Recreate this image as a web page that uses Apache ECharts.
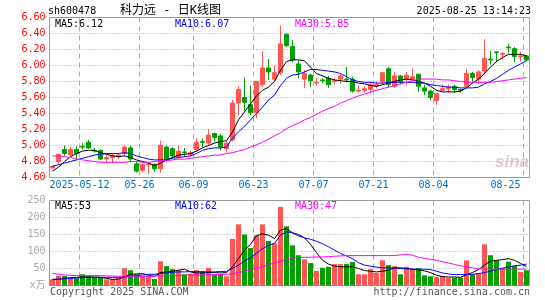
<!DOCTYPE html>
<html><head><meta charset="utf-8">
<script src="https://cdn.jsdelivr.net/npm/echarts@6/dist/echarts.min.js"></script>
<style>html,body{margin:0;padding:0;background:#fff}#c{width:545px;height:300px}</style>
</head><body><div id="c"></div>
<script>
const dates = ['2025-04-30','2025-05-06','2025-05-07','2025-05-08','2025-05-09','2025-05-12','2025-05-13','2025-05-14','2025-05-15','2025-05-16',
'2025-05-19','2025-05-20','2025-05-21','2025-05-22','2025-05-23','2025-05-26','2025-05-27','2025-05-28','2025-05-29','2025-05-30',
'2025-06-03','2025-06-04','2025-06-05','2025-06-06','2025-06-09','2025-06-10','2025-06-11','2025-06-12','2025-06-13','2025-06-16',
'2025-06-17','2025-06-18','2025-06-19','2025-06-20','2025-06-23','2025-06-24','2025-06-25','2025-06-26','2025-06-27','2025-06-30',
'2025-07-01','2025-07-02','2025-07-03','2025-07-04','2025-07-07','2025-07-08','2025-07-09','2025-07-10','2025-07-11','2025-07-14',
'2025-07-15','2025-07-16','2025-07-17','2025-07-18','2025-07-21','2025-07-22','2025-07-23','2025-07-24','2025-07-25','2025-07-28',
'2025-07-29','2025-07-30','2025-07-31','2025-08-01','2025-08-04','2025-08-05','2025-08-06','2025-08-07','2025-08-08','2025-08-11',
'2025-08-12','2025-08-13','2025-08-14','2025-08-15','2025-08-18','2025-08-19','2025-08-20','2025-08-21','2025-08-22','2025-08-25'];

const openP = [4.72,4.80,4.95,4.88,4.95,4.99,5.04,4.94,4.94,4.83,
4.85,4.86,4.90,4.97,4.77,4.69,4.76,4.76,4.71,4.98,
4.96,4.86,4.92,4.89,4.95,5.05,5.03,5.15,5.12,4.96,
5.07,5.53,5.60,5.51,5.41,5.76,5.97,5.83,5.91,6.39,
6.24,6.02,5.83,5.88,5.78,5.82,5.84,5.80,5.83,5.83,
5.83,5.68,5.69,5.70,5.74,5.80,5.96,5.74,5.87,5.83,
5.83,5.89,5.72,5.68,5.56,5.69,5.71,5.74,5.70,5.74,
5.90,5.83,5.93,6.08,6.17,6.14,6.23,6.21,6.11,6.12];
const closeP = [4.74,4.89,4.90,4.95,4.90,4.98,4.97,4.93,4.83,4.85,
4.88,4.88,4.98,4.83,4.68,4.76,4.77,4.71,5.00,4.83,
4.87,4.93,4.91,4.91,5.04,5.04,5.13,5.10,4.98,5.03,
5.53,5.70,5.54,5.41,5.80,5.97,5.92,5.91,6.27,6.25,
6.07,5.92,5.90,5.81,5.79,5.81,5.76,5.81,5.87,5.82,
5.68,5.69,5.71,5.76,5.76,5.91,5.76,5.87,5.80,5.88,
5.86,5.74,5.68,5.60,5.65,5.71,5.73,5.70,5.69,5.90,
5.85,5.92,6.09,6.07,6.16,6.15,6.22,6.11,6.12,6.07];
const lowP = [4.71,4.76,4.87,4.87,4.83,4.95,4.96,4.91,4.82,4.78,
4.78,4.83,4.87,4.79,4.66,4.66,4.64,4.67,4.66,4.80,
4.84,4.83,4.86,4.86,4.92,4.98,5.00,5.05,4.94,4.91,
5.05,5.38,5.43,5.38,5.34,5.73,5.82,5.80,5.88,6.23,
6.04,5.84,5.72,5.73,5.75,5.78,5.72,5.76,5.77,5.79,
5.66,5.66,5.66,5.65,5.71,5.77,5.72,5.72,5.76,5.76,
5.80,5.67,5.63,5.57,5.51,5.68,5.66,5.66,5.66,5.72,
5.78,5.77,5.88,6.01,6.04,6.07,6.16,6.04,6.05,6.05];
const highP = [4.75,4.90,5.00,4.98,4.99,5.03,5.07,4.97,4.95,4.88,
4.90,4.90,5.00,5.00,4.80,4.78,4.79,4.78,5.06,5.00,
4.98,5.00,4.97,4.93,5.09,5.09,5.20,5.16,5.15,5.05,
5.57,5.74,5.85,5.75,5.81,6.18,6.08,6.00,6.50,6.40,
6.32,6.06,5.94,5.90,5.84,5.84,5.87,5.84,5.89,5.98,
5.86,5.75,5.74,5.79,5.80,5.92,5.98,5.92,5.88,5.92,
5.96,5.90,5.76,5.70,5.65,5.76,5.76,5.76,5.71,5.96,
5.92,5.94,6.33,6.18,6.18,6.17,6.27,6.23,6.17,6.13];

const ma5 = [4.68,4.73,4.80,4.86,4.90,4.93,4.94,4.94,4.91,4.89,
4.87,4.86,4.87,4.85,4.82,4.80,4.78,4.75,4.78,4.82,
4.85,4.88,4.89,4.90,4.93,4.97,5.00,5.03,5.05,5.06,
5.17,5.32,5.42,5.52,5.62,5.69,5.73,5.80,5.94,6.05,
6.07,6.07,6.06,5.98,5.90,5.87,5.84,5.82,5.81,5.80,
5.80,5.78,5.77,5.75,5.74,5.76,5.78,5.80,5.82,5.83,
5.82,5.80,5.78,5.74,5.69,5.67,5.67,5.67,5.68,5.72,
5.78,5.83,5.90,5.98,6.05,6.10,6.14,6.14,6.14,6.12];
const ma10 = [4.74,4.76,4.78,4.80,4.82,4.84,4.86,4.88,4.89,4.90,
4.90,4.90,4.91,4.90,4.87,4.85,4.83,4.82,4.82,4.82,
4.84,4.85,4.86,4.87,4.90,4.94,4.96,4.97,4.97,4.98,
5.09,5.17,5.24,5.32,5.40,5.48,5.57,5.63,5.75,5.84,
5.88,5.89,5.92,5.95,5.95,5.94,5.93,5.92,5.90,5.86,
5.82,5.80,5.79,5.79,5.78,5.78,5.79,5.79,5.79,5.79,
5.79,5.78,5.78,5.76,5.75,5.74,5.73,5.73,5.72,5.72,
5.72,5.73,5.77,5.80,5.84,5.89,5.94,5.98,6.02,6.06];
const ma30 = [4.87,4.87,4.86,4.85,4.83,4.82,4.81,4.80,4.79,4.79,
4.79,4.79,4.79,4.80,4.80,4.79,4.79,4.80,4.81,4.81,
4.82,4.83,4.83,4.84,4.85,4.86,4.87,4.88,4.88,4.90,
4.91,4.93,4.95,4.98,5.01,5.04,5.08,5.12,5.16,5.21,
5.25,5.28,5.32,5.35,5.39,5.43,5.46,5.49,5.53,5.56,
5.59,5.62,5.64,5.67,5.69,5.71,5.73,5.75,5.77,5.79,
5.81,5.83,5.83,5.83,5.83,5.82,5.82,5.81,5.80,5.79,
5.79,5.79,5.79,5.79,5.80,5.81,5.82,5.83,5.84,5.85];

const volume = [18,28,28,21,21,33,28,23,23,18,
18,21,51,45,33,28,28,19,71,57,
48,45,33,35,45,42,52,32,33,27,
137,180,150,110,148,180,131,124,231,174,
118,89,77,66,43,52,55,63,63,63,
69,33,33,48,37,74,60,57,33,55,
48,51,30,27,25,28,23,23,23,74,
33,35,121,89,74,52,70,58,40,45];
const vma5 = [18,18,21,23,24,25,25,25,24,21,
18,19,25,33,34,35,30,27,38,40,
42,45,48,40,37,37,38,38,37,38,
55,79,104,121,146,152,148,138,163,167,
155,150,140,121,97,74,63,57,55,55,
55,50,44,42,40,42,45,52,52,50,
48,46,43,38,30,26,25,25,24,32,
38,47,60,72,74,76,79,74,65,56];
const vma10 = [18,19,20,21,22,23,24,24,24,24,
24,24,25,27,29,31,33,33,35,37,
39,40,40,41,41,40,40,40,41,42,
50,60,72,82,95,108,118,124,148,158,
155,146,140,136,130,123,114,104,94,87,
79,67,60,57,54,52,52,51,50,49,
48,48,48,47,42,37,34,32,32,32,
33,35,38,42,47,51,54,58,60,63];
const vma30 = [36,33,31,30,29,29,29,29,29,28,
28,27,27,27,27,27,27,28,28,29,
29,30,30,31,31,31,31,32,32,33,
35,38,42,46,50,55,61,66,71,76,
81,82,83,83,84,84,85,86,87,88,
88,88,88,88,88,88,88,88,90,91,
89,83,80,77,74,70,66,62,58,55,
52,49,48,48,48,48,48,48,48,48];

const tickDates = ['2025-05-12','2025-05-26','2025-06-09','2025-06-23','2025-07-07','2025-07-21','2025-08-04','2025-08-25'];
const tickLabels = ['2025-05-12','05-26','06-09','06-23','07-07','07-21','08-04','08-25'];
const priceLegend = ['MA5:6.12','MA10:6.07','MA30:5.85'];
const volLegend = ['MA5:53','MA10:62','MA30:47'];
const headerCode = 'sh600478';
const headerTitle = '科力远 - 日K线图';
const headerTime = '2025-08-25 13:14:23';

const UP = '#ff5555', DOWN = '#00a000';
const MONO = "'DejaVu Sans Mono','Noto Sans CJK SC',monospace";
const GL = 49.5, GW = 480;
const isTick = v => tickDates.indexOf(v) >= 0;

const candleData = dates.map((d,i)=>[openP[i],closeP[i],lowP[i],highP[i]]);
const volData = volume.map((v,i)=>({value:v,itemStyle:{color: closeP[i]>=openP[i]?UP:DOWN}}));

function txt(text,x,y,color,font,align){
  return {type:'text',silent:true,z:100,style:{text:text,x:x,y:y,fill:color,font:font,
    textAlign:align||'left',align:align||'left',textVerticalAlign:'middle',verticalAlign:'middle'}};
}
const legColors = ['#000000','#0000ff','#ff00ff'];
const legX = [55,175,295];
const graphics = [
  txt(headerCode,48,11,'#000','10px '+MONO),
  txt(headerTitle,120,11,'#000','12px '+MONO),
  txt(headerTime,531,11,'#000','10px '+MONO,'right'),
  txt('Copyright 2025 SINA.COM',50,292.5,'#555','10px '+MONO),
  txt('http://finance.sina.com.cn',530,292.5,'#555','10px '+MONO,'right'),
  txt('sina',512,162,'rgba(200,170,170,0.6)','italic bold 17px sans-serif','center')
];
priceLegend.forEach((t,i)=>graphics.push(txt(t,legX[i],24.5,legColors[i],'10px '+MONO)));
volLegend.forEach((t,i)=>graphics.push(txt(t,legX[i],206.5,legColors[i],'10px '+MONO)));

const splitX = {show:true, interval:(i,v)=>isTick(v), lineStyle:{color:'#aaa', type:[5,4], width:1}};
const splitY = {show:true, showMinLine:false, showMaxLine:false, lineStyle:{color:'#aaa', type:[1,2], width:1}};
function lineS(data,color,xi,yi){
  return {type:'line',data:data,xAxisIndex:xi,yAxisIndex:yi,symbol:'none',showSymbol:false,silent:true,
    lineStyle:{color:color,width:1},itemStyle:{color:color},z:5};
}

const option = {
  animation:false,
  backgroundColor:'#ffffff',
  grid:[
    {left:GL, top:17.5, width:GW, height:160, show:true, borderColor:'#999', borderWidth:1},
    {left:GL, top:200.5, width:GW, height:85, show:true, borderColor:'#999', borderWidth:1}
  ],
  xAxis:[
    {type:'category', gridIndex:0, data:dates, boundaryGap:true,
     axisLine:{show:false}, axisTick:{show:false},
     axisLabel:{interval:(i,v)=>isTick(v), formatter:v=>tickLabels[tickDates.indexOf(v)],
       color:'#0070c0', fontFamily:MONO, fontSize:10, margin:3, padding:[0,6,0,0], alignMaxLabel:'right'},
     splitLine:splitX},
    {type:'category', gridIndex:1, data:dates, boundaryGap:true,
     axisLine:{show:false}, axisTick:{show:false}, axisLabel:{show:false}, splitLine:splitX}
  ],
  yAxis:[
    {type:'value', gridIndex:0, min:4.6, max:6.6, interval:0.2, scale:false,
     axisLine:{show:false}, axisTick:{show:false},
     axisLabel:{color:'#ff0000', fontFamily:MONO, fontSize:10, margin:4, formatter:v=>v.toFixed(2)},
     splitLine:splitY},
    {type:'value', gridIndex:1, min:0, max:250, interval:50,
     axisLine:{show:false}, axisTick:{show:false},
     axisLabel:{color:'#aaaaaa', fontFamily:MONO, fontSize:10, margin:4, formatter:v=>v===0?'x万':String(v)},
     splitLine:splitY}
  ],
  series:[
    {type:'candlestick', data:candleData, xAxisIndex:0, yAxisIndex:0, barWidth:5, silent:true,
     itemStyle:{color:UP, color0:DOWN, borderColor:UP, borderColor0:DOWN, borderWidth:1}, z:3},
    lineS(ma5,'#000000',0,0), lineS(ma10,'#0000ff',0,0), lineS(ma30,'#ff00ff',0,0),
    {type:'bar', data:volData, xAxisIndex:1, yAxisIndex:1, barWidth:5, silent:true, z:3},
    lineS(vma5,'#000000',1,1), lineS(vma10,'#0000ff',1,1), lineS(vma30,'#ff00ff',1,1)
  ],
  graphic:graphics
};
const chart = echarts.init(document.getElementById('c'), null, {renderer:'canvas'});
chart.setOption(option);
</script></body></html>
